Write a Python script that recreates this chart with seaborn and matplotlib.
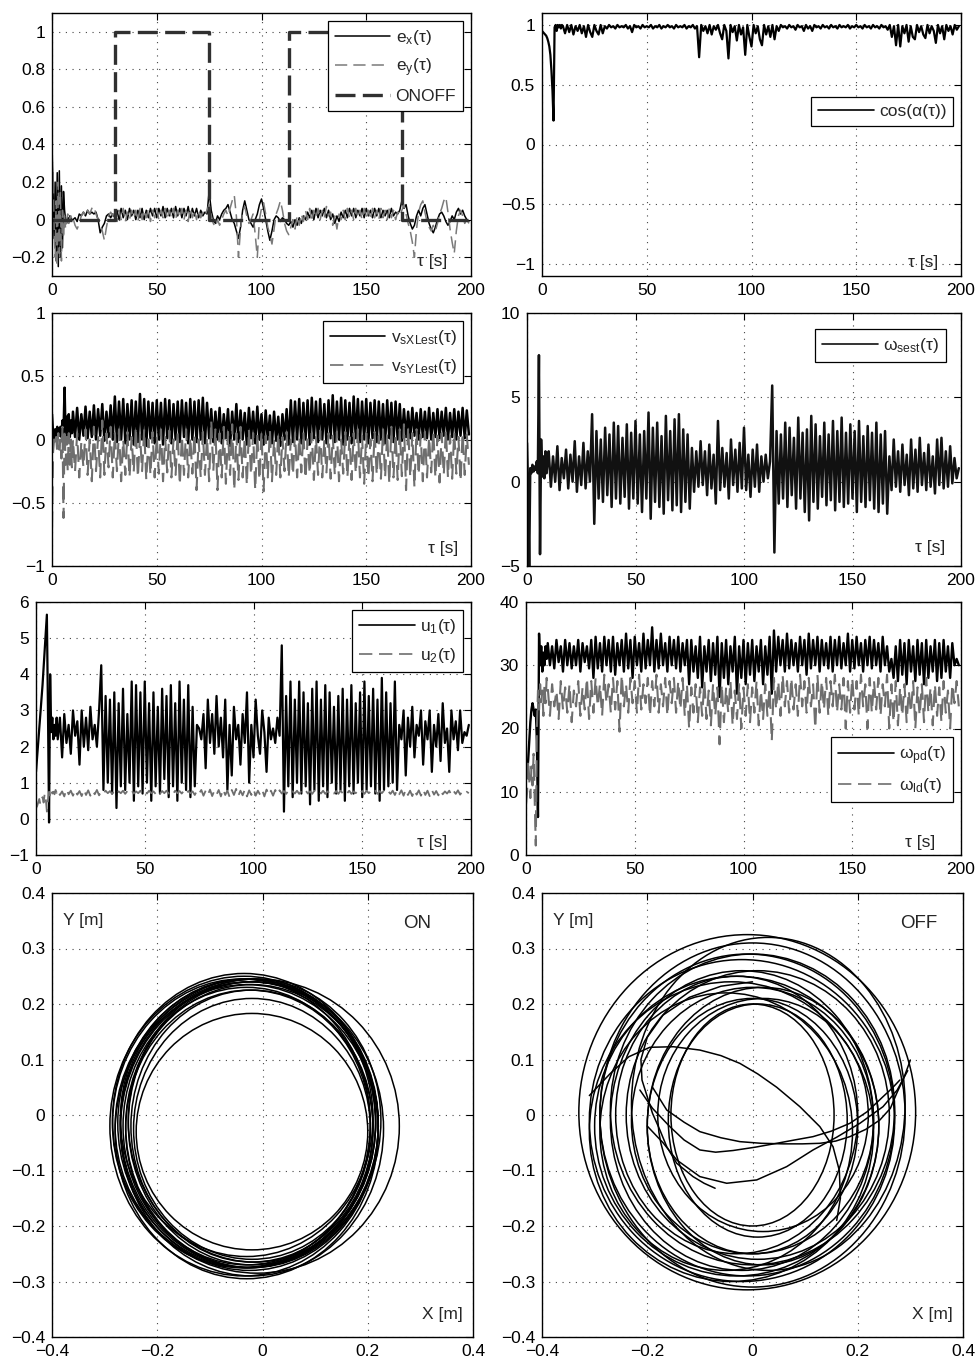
import numpy as np
import matplotlib
matplotlib.use('Agg')
import matplotlib.pyplot as plt
from matplotlib.patches import Ellipse
from matplotlib.ticker import FuncFormatter
import seaborn as sns

# ---- time series: head = 0..9.5 s every 0.5 s, body = 10..199 s every 1 s ----
ex_head = [0.40, 0.15, -0.10, 0.20, -0.22, 0.25, -0.25, 0.26, -0.20, 0.18,
           -0.15, 0.15, 0.05, 0.00, -0.02, 0.01, 0.00, 0.02, 0.01, 0.00]
ex_body = [0.00, 0.01, -0.01, 0.03, 0.02, 0.04, 0.02, 0.05, 0.03, 0.04,
           0.03, 0.04, 0.00, -0.07, -0.04, -0.02, 0.02, 0.03, 0.01, 0.03,
           0.01, 0.05, 0.00, 0.06, 0.01, 0.05, 0.00, 0.06, 0.02, 0.05,
           0.00, 0.05, 0.01, 0.06, 0.00, 0.05, 0.01, 0.06, 0.02, 0.06,
           0.01, 0.06, 0.02, 0.07, 0.01, 0.06, 0.02, 0.06, 0.01, 0.07,
           0.02, 0.06, 0.01, 0.06, 0.02, 0.07, 0.01, 0.06, 0.02, 0.06,
           0.01, 0.05, 0.02, 0.04, 0.03, 0.15, 0.05, 0.00, -0.02, 0.02,
           0.00, 0.03, 0.05, 0.06, 0.08, 0.04, 0.00, -0.02, -0.06, -0.10,
           -0.04, 0.05, 0.10, 0.05, 0.00, -0.02, -0.04, 0.00, 0.03, 0.08,
           0.11, 0.06, 0.00, -0.06, -0.11, -0.06, 0.00, 0.02, 0.01, -0.01,
           0.01, 0.00, -0.02, -0.03, -0.01, -0.04, 0.00, -0.03, 0.01, -0.02,
           0.02, 0.00, 0.04, 0.01, 0.05, 0.00, 0.06, 0.01, 0.05, 0.02,
           0.06, 0.01, 0.05, 0.00, 0.03, -0.02, 0.02, -0.01, 0.04, 0.01,
           0.05, 0.01, 0.06, 0.02, 0.06, 0.01, 0.05, 0.02, 0.06, 0.01,
           0.06, 0.02, 0.05, 0.01, 0.06, 0.02, 0.06, 0.01, 0.05, 0.02,
           0.05, 0.01, 0.06, 0.02, 0.04, 0.03, 0.05, 0.10, 0.06, 0.08,
           0.02, -0.02, -0.05, -0.03, 0.02, 0.05, 0.02, 0.06, 0.08, 0.03,
           -0.02, -0.05, -0.07, -0.04, 0.00, 0.03, 0.04, 0.02, -0.01, -0.03,
           -0.01, 0.02, 0.00, 0.04, 0.06, 0.03, 0.05, 0.02, 0.00, -0.01]

ey_head = [0.10, 0.25, -0.05, -0.20, 0.10, -0.25, 0.20, -0.18, 0.15, -0.22,
           0.05, -0.10, 0.02, -0.05, 0.00, 0.03, -0.02, 0.01, 0.02, 0.00]
ey_body = [0.01, -0.03, -0.05, -0.02, 0.02, 0.04, 0.02, 0.05, 0.03, 0.06,
           0.07, 0.03, 0.00, -0.03, -0.06, -0.11, -0.04, 0.02, 0.04, 0.02,
           0.05, -0.01, 0.05, 0.00, 0.06, -0.01, 0.04, 0.00, 0.05, 0.01,
           0.05, -0.01, 0.06, 0.00, 0.05, 0.01, 0.06, -0.01, 0.05, 0.01,
           0.06, 0.00, 0.05, 0.01, 0.06, 0.00, 0.05, 0.01, 0.06, 0.00,
           0.05, 0.01, 0.06, 0.00, 0.05, -0.01, 0.06, 0.01, 0.05, 0.00,
           0.05, 0.01, 0.04, 0.02, 0.05, 0.08, 0.02, -0.02, -0.04, 0.00,
           -0.03, 0.00, 0.03, 0.05, 0.02, 0.06, 0.10, 0.13, 0.02, -0.20,
           -0.05, 0.04, 0.07, 0.02, -0.02, 0.00, 0.03, -0.08, -0.20, 0.00,
           0.06, 0.09, 0.03, -0.04, -0.08, -0.13, -0.05, 0.03, 0.06, 0.10,
           0.05, -0.02, -0.06, -0.08, -0.04, 0.00, -0.05, 0.02, -0.03, 0.03,
           -0.01, 0.05, 0.00, 0.06, -0.01, 0.05, 0.01, 0.06, 0.00, 0.05,
           0.01, 0.07, 0.02, 0.04, -0.03, 0.02, -0.05, 0.03, 0.00, 0.05,
           0.00, 0.06, 0.01, 0.05, 0.00, 0.06, 0.01, 0.05, 0.00, 0.06,
           0.01, 0.05, 0.00, 0.06, 0.01, 0.05, 0.00, 0.06, 0.01, 0.05,
           0.00, 0.06, 0.01, 0.05, 0.00, 0.04, 0.02, 0.05, 0.08, 0.03,
           -0.02, -0.06, -0.12, -0.20, -0.05, 0.04, 0.08, 0.10, 0.04, -0.01,
           -0.04, -0.06, -0.03, -0.06, -0.02, 0.03, 0.06, 0.10, 0.12, 0.04,
           -0.05, -0.12, -0.18, -0.06, 0.02, 0.05, 0.02, -0.02, 0.00, -0.02]

onoff_t = [0, 30, 30, 75, 75, 113, 113, 167, 167, 200]
onoff_v = [0, 0, 1, 1, 0, 0, 1, 1, 0, 0]

cos_head = [0.95, 0.94, 0.93, 0.92, 0.91, 0.89, 0.86, 0.82, 0.75, 0.62,
            0.45, 0.20, 0.98, 1.00, 0.95, 1.00, 0.98, 1.00, 0.97, 1.00]
cos_body = [0.99, 0.93, 1.00, 0.94, 1.00, 0.92, 0.99, 0.95, 1.00, 0.93,
            0.99, 0.90, 1.00, 0.94, 0.90, 1.00, 0.95, 0.92, 1.00, 0.93,
            0.99, 0.97, 1.00, 0.98, 0.99, 0.97, 1.00, 0.98, 0.99, 0.98,
            1.00, 0.97, 0.99, 0.94, 1.00, 0.98, 0.99, 0.97, 1.00, 0.98,
            0.99, 0.98, 1.00, 0.97, 0.99, 0.98, 1.00, 0.97, 0.99, 0.98,
            1.00, 0.98, 0.99, 0.97, 1.00, 0.98, 0.99, 0.98, 1.00, 0.97,
            0.99, 0.98, 1.00, 0.97, 0.99, 0.73, 1.00, 0.95, 0.99, 0.93,
            1.00, 0.92, 0.99, 0.96, 1.00, 0.93, 0.88, 1.00, 0.95, 0.72,
            1.00, 0.94, 0.99, 0.87, 1.00, 0.92, 0.98, 0.75, 1.00, 0.90,
            0.82, 1.00, 0.93, 0.99, 0.88, 0.83, 1.00, 0.92, 0.99, 0.90,
            1.00, 0.88, 0.99, 0.95, 1.00, 0.98, 0.99, 0.97, 1.00, 0.98,
            0.99, 0.96, 1.00, 0.98, 0.99, 0.95, 1.00, 0.97, 0.99, 0.95,
            1.00, 0.98, 0.99, 0.97, 1.00, 0.98, 0.99, 0.97, 1.00, 0.98,
            0.99, 0.97, 1.00, 0.98, 0.99, 0.98, 1.00, 0.97, 0.99, 0.98,
            1.00, 0.98, 0.99, 0.97, 1.00, 0.98, 0.99, 0.97, 1.00, 0.98,
            0.99, 0.97, 1.00, 0.98, 0.99, 0.96, 1.00, 0.90, 0.99, 0.83,
            1.00, 0.82, 0.99, 0.93, 1.00, 0.86, 0.99, 0.90, 0.88, 1.00,
            0.94, 0.99, 0.92, 0.89, 1.00, 0.93, 0.99, 0.95, 0.85, 1.00,
            0.93, 0.99, 0.88, 1.00, 0.95, 0.99, 0.92, 1.00, 0.96, 0.99]

vx_head = [0.20, 0.05, 0.00, 0.08, 0.02, 0.10, 0.05, 0.03, 0.10, 0.02,
           0.15, 0.05, 0.41, 0.00, 0.18, 0.03, 0.20, 0.02, 0.15, 0.05]
vx_body = [0.22, 0.02, 0.25, 0.00, 0.20, 0.03, 0.26, 0.01, 0.22, 0.02,
           0.27, 0.00, 0.24, 0.03, 0.28, -0.01, 0.22, 0.02, 0.27, 0.00,
           0.34, -0.02, 0.30, 0.00, 0.32, -0.03, 0.28, 0.00, 0.31, -0.04,
           0.30, -0.02, 0.36, 0.00, 0.32, -0.05, 0.30, 0.01, 0.29, -0.03,
           0.31, 0.00, 0.29, -0.04, 0.32, 0.01, 0.31, -0.03, 0.28, 0.00,
           0.30, -0.02, 0.31, 0.02, 0.29, -0.03, 0.32, 0.00, 0.30, -0.02,
           0.31, 0.00, 0.33, -0.03, 0.29, 0.01, 0.24, -0.02, 0.22, 0.00,
           0.25, -0.03, 0.20, 0.01, 0.24, -0.05, 0.22, 0.00, 0.28, -0.02,
           0.23, 0.00, 0.21, -0.04, 0.25, 0.01, 0.22, -0.03, 0.26, 0.00,
           0.20, -0.04, 0.23, 0.00, 0.19, -0.03, 0.22, -0.01, 0.18, -0.05,
           0.20, 0.00, 0.24, -0.04, 0.31, -0.02, 0.30, 0.00, 0.32, -0.03,
           0.29, 0.00, 0.31, -0.04, 0.33, 0.01, 0.30, -0.02, 0.32, 0.00,
           0.28, -0.03, 0.31, 0.01, 0.35, -0.02, 0.30, 0.00, 0.33, -0.04,
           0.31, 0.00, 0.29, -0.03, 0.34, 0.01, 0.32, -0.02, 0.30, 0.00,
           0.32, -0.03, 0.29, 0.01, 0.31, -0.02, 0.30, 0.00, 0.28, -0.03,
           0.31, 0.01, 0.29, -0.02, 0.30, 0.00, 0.28, -0.01, 0.24, 0.02,
           0.22, 0.01, 0.25, 0.03, 0.21, 0.00, 0.24, 0.02, 0.22, 0.01,
           0.25, 0.00, 0.21, 0.02, 0.24, 0.01, 0.22, 0.03, 0.25, 0.00,
           0.21, 0.02, 0.24, 0.00, 0.22, 0.03, 0.25, 0.01, 0.23, 0.04]

vy_head = [-0.70, -0.10, 0.00, -0.05, 0.02, -0.10, 0.05, -0.08, 0.00, -0.15,
           0.10, -0.62, 0.08, -0.20, 0.02, -0.25, 0.05, -0.20, 0.00, -0.22]
vy_body = [0.00, -0.25, 0.05, -0.30, -0.02, -0.22, 0.08, -0.28, 0.00, -0.33,
           0.10, -0.25, 0.02, -0.30, 0.15, -0.28, 0.05, -0.22, 0.10, -0.30,
           0.05, -0.25, 0.08, -0.33, 0.00, -0.28, 0.06, -0.30, 0.02, -0.26,
           0.10, -0.30, 0.04, -0.25, 0.08, -0.32, 0.00, -0.28, 0.06, -0.30,
           0.03, -0.27, 0.08, -0.33, 0.02, -0.26, 0.07, -0.30, 0.00, -0.28,
           0.06, -0.36, 0.03, -0.28, 0.08, -0.30, 0.02, -0.27, 0.05, -0.40,
           0.00, -0.30, 0.06, -0.28, 0.02, -0.33, 0.15, -0.25, 0.08, -0.40,
           0.05, -0.30, 0.10, -0.35, 0.06, -0.28, 0.12, -0.40, 0.05, -0.32,
           0.10, -0.30, 0.02, -0.36, 0.08, -0.28, 0.05, -0.40, 0.04, -0.32,
           0.06, -0.41, 0.03, -0.30, 0.08, -0.33, 0.00, -0.28, 0.05, -0.30,
           0.02, -0.25, 0.06, -0.30, 0.00, -0.28, 0.05, -0.30, 0.02, -0.26,
           0.06, -0.31, 0.00, -0.27, 0.05, -0.32, 0.02, -0.28, 0.07, -0.30,
           0.00, -0.26, 0.05, -0.31, 0.03, -0.28, 0.06, -0.33, 0.00, -0.27,
           0.06, -0.30, 0.02, -0.32, 0.05, -0.27, 0.08, -0.30, 0.03, -0.35,
           0.05, -0.30, 0.00, -0.33, 0.06, -0.28, 0.03, -0.31, 0.08, -0.30,
           0.05, -0.35, 0.10, -0.30, 0.04, -0.32, 0.08, -0.29, 0.12, -0.40,
           0.10, -0.30, 0.05, -0.38, 0.08, -0.28, 0.04, -0.33, 0.06, -0.30,
           0.02, -0.26, 0.07, -0.30, 0.03, -0.34, 0.05, -0.28, 0.08, -0.30,
           0.03, -0.31, 0.06, -0.27, 0.02, -0.33, 0.05, -0.28, 0.04, -0.20]

ws_head = [2.3, -0.5, -5.0, 0.8, 0.5, 1.0, 0.6, 0.9, 0.7, 1.2,
           0.5, 7.5, -4.3, 2.5, 0.3, 1.5, 0.2, 1.8, 0.5, 1.2]
ws_body = [1.8, -0.3, 1.5, 0.0, 2.1, -0.5, 1.4, 0.2, 1.9, -0.4,
           1.6, 0.0, 2.4, -0.6, 1.5, -0.2, 2.3, -0.4, 1.8, 0.0,
           4.0, -2.5, 3.0, -1.0, 2.5, -1.2, 3.2, -0.8, 2.8, -1.5,
           3.5, -1.0, 3.3, -1.3, 2.6, -0.9, 3.4, -1.6, 2.9, -1.0,
           3.6, -1.3, 2.8, -1.8, 3.0, -1.0, 4.1, -2.2, 3.2, -1.2,
           3.5, -1.5, 2.7, -1.9, 3.9, -1.1, 3.0, -1.7, 3.7, -1.4,
           4.0, -1.8, 3.1, -1.2, 2.8, -1.6, 2.0, -0.6, 1.8, -0.3,
           2.4, -0.2, 1.8, -0.8, 2.2, -0.4, 1.6, -1.3, 3.6, -0.5,
           2.0, -0.3, 1.7, -1.0, 2.5, -0.2, 1.9, -0.6, 2.3, -0.4,
           3.2, -0.5, 1.6, -0.9, 1.9, -0.3, 2.2, -0.6, 1.5, 0.0,
           1.6, 0.2, 1.2, 5.7, -4.2, 3.0, -1.3, 2.8, -1.0, 3.5,
           -1.5, 3.2, -0.8, 2.6, -1.6, 3.8, -1.0, 2.9, -1.8, 3.1,
           -2.3, 3.9, -1.2, 3.4, -1.6, 2.7, -0.9, 3.5, -1.4, 2.8,
           -1.1, 3.6, -1.7, 3.0, -1.2, 3.8, -1.5, 2.9, -1.3, 3.4,
           -1.0, 3.0, -1.8, 3.6, -1.2, 2.7, -1.5, 3.3, -1.1, 2.9,
           -1.6, 3.5, -1.8, 2.8, -1.3, 3.0, -1.9, 1.5, -0.5, 2.5,
           -0.3, 1.8, -0.6, 2.2, -0.2, 1.6, -0.8, 2.5, -0.4, 1.9,
           -0.6, 2.6, -0.2, 1.7, -0.5, 2.2, -0.3, 1.5, -0.7, 2.5,
           -0.2, 2.6, -0.4, 1.8, -0.3, 2.1, -0.1, 1.4, 0.2, 0.8]

u1_head = [1.3, 1.7, 2.1, 2.5, 2.9, 3.3, 3.7, 4.2, 4.7, 5.2,
           5.65, 3.0, -0.1, 4.0, 2.4, 2.8, 2.2, 2.6, 2.3, 2.8]
u1_body = [2.2, 2.8, 1.7, 2.9, 2.1, 2.6, 1.8, 3.0, 2.3, 2.7,
           1.5, 3.0, 2.0, 2.8, 1.9, 3.1, 2.2, 2.6, 2.0, 3.0,
           4.25, 0.8, 3.4, 1.0, 3.3, 0.7, 3.5, 0.3, 3.2, 0.9,
           3.6, 0.8, 2.9, 1.0, 3.8, 0.5, 3.7, 0.9, 3.5, 0.7,
           3.8, 1.0, 3.2, 0.5, 3.5, 0.9, 3.1, 0.7, 3.6, 1.1,
           3.4, 0.6, 3.7, 0.9, 3.2, 0.5, 3.8, 1.0, 3.3, 0.8,
           3.7, 0.6, 3.1, 0.9, 2.6, 2.5, 2.2, 2.9, 1.4, 3.3,
           2.1, 2.9, 1.8, 3.4, 2.0, 2.8, 1.7, 3.3, 0.8, 2.6,
           1.2, 3.1, 2.2, 2.6, 1.5, 2.9, 2.1, 3.5, 1.0, 2.6,
           1.7, 3.3, 2.3, 1.8, 3.0, 2.4, 1.3, 2.8, 2.2, 2.5,
           2.1, 2.8, 2.3, 4.8, 0.2, 3.4, 0.9, 3.8, 0.6, 3.3,
           1.0, 3.8, 0.7, 3.5, 0.9, 3.2, 0.4, 3.6, 0.8, 3.8,
           0.5, 3.3, 0.9, 3.7, 0.6, 3.5, 1.0, 3.1, 0.7, 3.4,
           0.8, 3.6, 0.5, 3.3, 0.9, 3.7, 0.7, 3.2, 1.0, 3.5,
           0.6, 3.8, 0.8, 3.4, 0.9, 3.6, 0.7, 3.3, 0.5, 3.9,
           0.8, 3.5, 0.9, 3.2, 1.0, 3.8, 0.8, 2.6, 2.2, 3.0,
           1.2, 2.8, 2.0, 3.1, 1.7, 2.6, 2.3, 3.0, 1.5, 2.7,
           2.2, 3.0, 1.3, 2.6, 2.0, 2.9, 1.6, 3.2, 2.1, 2.5,
           1.3, 3.0, 2.2, 2.7, 1.9, 3.0, 2.1, 2.4, 2.3, 2.6]

u2_head = [0.30, 0.35, 0.45, 0.55, 0.40, 0.50, 0.60, 0.45, 0.70, 0.55,
           0.20, 0.50, 0.75, 0.65, 0.80, 0.70, 0.75, 0.68, 0.80, 0.72]
u2_body = [0.80, 0.66, 0.76, 0.62, 0.82, 0.68, 0.78, 0.64, 0.80, 0.67,
           0.77, 0.63, 0.81, 0.66, 0.79, 0.64, 0.78, 0.68, 0.80, 0.65,
           0.76, 0.70, 0.78, 0.71, 0.77, 0.69, 0.78, 0.70, 0.76, 0.71,
           0.78, 0.69, 0.77, 0.71, 0.78, 0.70, 0.76, 0.71, 0.78, 0.69,
           0.77, 0.70, 0.78, 0.71, 0.76, 0.69, 0.78, 0.70, 0.77, 0.71,
           0.78, 0.70, 0.76, 0.69, 0.78, 0.71, 0.77, 0.70, 0.78, 0.69,
           0.77, 0.71, 0.76, 0.66, 0.78, 0.70, 0.80, 0.64, 0.78, 0.66,
           0.81, 0.63, 0.78, 0.67, 0.80, 0.62, 0.82, 0.66, 0.78, 0.60,
           0.80, 0.66, 0.83, 0.63, 0.78, 0.65, 0.81, 0.62, 0.79, 0.66,
           0.82, 0.64, 0.78, 0.67, 0.80, 0.62, 0.81, 0.66, 0.78, 0.64,
           0.80, 0.67, 0.79, 0.70, 0.77, 0.69, 0.78, 0.71, 0.76, 0.70,
           0.78, 0.69, 0.77, 0.71, 0.78, 0.70, 0.76, 0.69, 0.78, 0.71,
           0.77, 0.70, 0.78, 0.69, 0.76, 0.71, 0.78, 0.70, 0.77, 0.69,
           0.78, 0.71, 0.77, 0.70, 0.78, 0.69, 0.76, 0.71, 0.78, 0.70,
           0.77, 0.69, 0.78, 0.71, 0.76, 0.70, 0.78, 0.69, 0.77, 0.71,
           0.78, 0.70, 0.76, 0.69, 0.78, 0.66, 0.80, 0.68, 0.79, 0.64,
           0.81, 0.66, 0.78, 0.63, 0.80, 0.67, 0.79, 0.64, 0.81, 0.66,
           0.78, 0.63, 0.80, 0.67, 0.77, 0.65, 0.79, 0.68, 0.76, 0.70,
           0.78, 0.66, 0.77, 0.69, 0.79, 0.67, 0.76, 0.70, 0.75, 0.71]

wpd_head = [12, 13, 15, 18, 21, 23, 24, 23, 22, 23,
            18, 6, 35, 30, 33, 29, 32, 30, 33, 31]
wpd_body = [33.5, 30.0, 33.0, 29.5, 34.0, 30.5, 33.0, 29.0, 34.0, 30.0,
            33.5, 29.5, 33.0, 30.0, 34.0, 29.0, 33.5, 30.5, 33.0, 29.5,
            34.0, 28.0, 34.5, 29.5, 33.5, 29.0, 34.5, 30.0, 34.0, 29.0,
            34.5, 28.5, 33.5, 30.0, 34.0, 29.0, 35.0, 29.5, 34.0, 28.0,
            34.5, 30.0, 33.5, 29.0, 35.0, 29.5, 34.0, 30.0, 36.0, 29.0,
            34.0, 29.5, 35.0, 30.0, 33.5, 29.0, 34.5, 30.0, 34.0, 29.5,
            34.5, 29.0, 33.5, 30.0, 34.0, 27.0, 34.0, 29.0, 33.0, 28.0,
            34.5, 26.5, 33.0, 29.0, 34.0, 27.5, 33.5, 28.5, 34.5, 25.0,
            33.5, 28.0, 34.0, 27.0, 33.0, 29.0, 34.5, 25.5, 33.0, 28.0,
            34.0, 27.0, 33.5, 28.5, 34.0, 27.5, 33.0, 29.0, 34.0, 27.0,
            33.0, 28.5, 34.5, 25.5, 35.5, 29.0, 34.5, 30.0, 34.0, 29.0,
            35.0, 29.5, 34.0, 30.0, 33.5, 29.0, 34.5, 30.0, 34.0, 28.5,
            35.0, 29.5, 34.0, 30.0, 34.5, 29.0, 34.0, 30.0, 33.5, 29.5,
            34.5, 29.0, 34.0, 30.0, 34.5, 29.5, 33.5, 30.0, 35.0, 29.0,
            34.0, 29.5, 34.5, 30.0, 33.5, 29.0, 34.0, 30.0, 34.5, 29.5,
            34.0, 30.0, 33.5, 29.0, 34.5, 30.0, 33.0, 29.0, 31.0, 28.0,
            33.0, 27.5, 34.0, 28.5, 33.5, 27.0, 34.0, 29.0, 33.0, 27.5,
            34.0, 28.5, 33.5, 27.0, 34.0, 28.0, 33.0, 29.0, 34.0, 27.5,
            33.5, 28.0, 34.0, 29.0, 33.0, 28.0, 33.5, 30.0, 31.0, 30.0]

wld_head = [8, 10, 15, 12, 9, 14, 11, 16, 9, 1.5,
            20, 26, 23, 27, 24, 26, 22, 27, 24, 28]
wld_body = [26.5, 22.0, 27.0, 23.5, 26.0, 21.5, 27.5, 23.0, 26.5, 22.5,
            27.0, 21.0, 26.0, 23.5, 27.5, 22.0, 26.5, 23.0, 28.0, 21.5,
            27.5, 22.5, 28.0, 23.5, 27.0, 22.0, 28.5, 24.0, 27.0, 22.5,
            28.0, 23.0, 27.5, 19.5, 28.5, 23.5, 27.0, 22.5, 28.0, 24.0,
            27.5, 22.5, 28.5, 23.0, 27.0, 24.0, 28.0, 22.0, 27.5, 23.5,
            28.5, 22.5, 27.0, 23.5, 28.0, 22.0, 27.5, 24.0, 28.0, 22.5,
            27.5, 23.0, 28.0, 22.0, 27.0, 20.0, 26.5, 22.5, 27.0, 21.0,
            26.5, 22.0, 27.5, 21.5, 26.0, 20.5, 27.0, 22.0, 26.5, 17.5,
            27.0, 21.0, 26.5, 22.5, 27.5, 20.5, 26.0, 21.5, 27.0, 20.0,
            26.5, 22.0, 27.0, 21.0, 26.5, 22.5, 27.5, 20.5, 26.0, 21.5,
            27.0, 22.0, 26.5, 18.0, 28.0, 23.0, 27.5, 22.0, 28.5, 23.5,
            27.5, 22.5, 28.0, 23.0, 27.0, 22.0, 28.5, 23.5, 27.5, 22.5,
            28.0, 23.5, 27.0, 20.0, 28.5, 22.5, 27.5, 23.0, 28.0, 22.0,
            27.5, 23.5, 28.5, 22.5, 27.0, 23.0, 28.0, 20.0, 27.5, 22.5,
            28.0, 23.0, 27.5, 22.0, 28.5, 23.5, 27.0, 20.0, 28.0, 22.5,
            27.5, 23.0, 28.0, 22.0, 27.0, 23.5, 28.5, 20.0, 27.0, 21.0,
            27.5, 20.5, 26.5, 22.0, 27.0, 21.0, 26.0, 22.5, 27.5, 20.0,
            26.5, 22.0, 27.0, 21.0, 28.0, 22.5, 26.5, 20.5, 27.0, 22.0,
            26.5, 21.0, 27.5, 22.5, 26.0, 20.0, 27.0, 24.0, 27.5, 23.5]

# ---- X-Y trajectories: each loop read as centre and half-widths [m] ----
on_cx = [-0.03, -0.02, -0.035, -0.025, -0.04, -0.02, -0.03, -0.015, -0.035,
         -0.025, -0.03, -0.02, -0.03, -0.01, -0.02, -0.025, -0.02, -0.02]
on_cy = [-0.015, -0.02, -0.01, -0.025, -0.015, -0.02, -0.03, -0.01, -0.02,
         -0.015, -0.02, -0.025, -0.005, -0.02, -0.015, -0.02, -0.03, -0.025]
on_rx = [0.245, 0.24, 0.25, 0.235, 0.245, 0.23, 0.25, 0.24, 0.255,
         0.245, 0.235, 0.25, 0.24, 0.27, 0.235, 0.245, 0.22, 0.225]
on_ry = [0.26, 0.255, 0.265, 0.25, 0.26, 0.245, 0.265, 0.255, 0.27,
         0.26, 0.25, 0.265, 0.25, 0.265, 0.255, 0.26, 0.213, 0.235]

off_cx = [-0.01, 0.0, -0.02, -0.01, -0.03, 0.0, 0.01, -0.02, 0.0,
          0.02, 0.01, 0.0, -0.04, 0.03, -0.05, 0.02, -0.03, 0.0]
off_cy = [0.005, 0.0, -0.01, 0.0, -0.02, 0.01, 0.0, -0.01, -0.01,
          0.0, -0.01, -0.02, -0.03, 0.02, -0.03, -0.02, 0.0, 0.0]
off_rx = [0.32, 0.29, 0.29, 0.28, 0.27, 0.27, 0.25, 0.25, 0.23,
          0.2, 0.17, 0.2, 0.27, 0.26, 0.24, 0.22, 0.23, 0.155]
off_ry = [0.32, 0.31, 0.29, 0.29, 0.27, 0.28, 0.26, 0.27, 0.24,
          0.21, 0.21, 0.23, 0.27, 0.30, 0.25, 0.25, 0.25, 0.2]

# open stretches of the OFF trajectory (start and crossing arcs)
off_a_x = [-0.31, -0.27, -0.235, -0.195, -0.15, -0.1, -0.06, -0.024, 0.01, 0.046,
           0.09, 0.128, 0.153, 0.165, 0.167, 0.16]
off_a_y = [0.035, 0.075, 0.105, 0.122, 0.123, 0.117, 0.107, 0.093, 0.074, 0.05,
           0.015, -0.021, -0.057, -0.1, -0.15, -0.19]
off_b_x = [-0.19, -0.163, -0.13, -0.1, -0.06, -0.024, 0.017, 0.058, 0.095, 0.128,
           0.158, 0.185, 0.215, 0.242, 0.262, 0.274, 0.288, 0.3]
off_b_y = [0.05, 0.009, -0.013, -0.03, -0.041, -0.048, -0.051, -0.052, -0.052, -0.051,
           -0.047, -0.039, -0.026, -0.009, 0.012, 0.039, 0.068, 0.099]
off_e_x = [-0.214, -0.19, -0.157, -0.13, -0.1, -0.07, -0.037, 0.005, 0.046, 0.08,
           0.115, 0.15, 0.185, 0.218, 0.248, 0.265, 0.28]
off_e_y = [0.045, 0.012, -0.021, -0.045, -0.063, -0.067, -0.064, -0.058, -0.051, -0.045,
           -0.039, -0.029, -0.015, 0.006, 0.033, 0.048, 0.063]
off_c_x = [-0.071, -0.092, -0.113, -0.144, -0.163, -0.176, -0.19, -0.2, -0.21, -0.212,
           -0.2, -0.17, -0.12, -0.06, 0.0]
off_c_y = [-0.132, -0.123, -0.111, -0.087, -0.057, -0.027, 0.003, 0.033, 0.063, 0.1,
           0.14, 0.18, 0.212, 0.232, 0.24]
off_d_x = [-0.2, -0.17, -0.144, -0.1, -0.049, 0.008, 0.065, 0.115, 0.16, 0.204,
           0.248, 0.275, 0.295]
off_d_y = [-0.02, -0.05, -0.081, -0.111, -0.123, -0.117, -0.093, -0.063, -0.04, -0.015,
           0.015, 0.045, 0.08]


def series_time(head, body):
    return np.concatenate([np.arange(len(head)) * 0.5, 10 + np.arange(len(body))])


def series(head, body):
    return np.array(head + body, dtype=float)


sns.set_style('white')
plt.rcParams['font.family'] = ['Liberation Sans', 'DejaVu Sans']
plt.rcParams['mathtext.fontset'] = 'custom'
plt.rcParams['mathtext.rm'] = 'Liberation Sans'
plt.rcParams['mathtext.it'] = 'Liberation Sans:italic'
plt.rcParams['axes.unicode_minus'] = True

BLACK = '#000000'
GRAY = '#6e6e6e'
FS = 12.5

fmt = FuncFormatter(lambda v, p: ('%g' % round(v, 6)).replace('-', '\u2212'))

W, H = 980, 1361
fig = plt.figure(figsize=(W / 100, H / 100), dpi=100)


def add_ax(x0, y0, x1, y1):
    return fig.add_axes([x0 / W, 1 - y1 / H, (x1 - x0) / W, (y1 - y0) / H])


def style(ax, xlim, ylim, xticks, yticks):
    ax.set_xlim(xlim)
    ax.set_ylim(ylim)
    ax.set_xticks(xticks)
    ax.set_yticks(yticks)
    ax.xaxis.set_major_formatter(fmt)
    ax.yaxis.set_major_formatter(fmt)
    ax.set_axisbelow(True)
    ax.grid(True, linestyle=(0, (1, 5)), color='#444444', linewidth=0.8)
    ax.tick_params(direction='in', length=5, width=0.8, top=True, right=True,
                   labelsize=FS, pad=5, colors='black')
    for s in ax.spines.values():
        s.set_visible(True)
        s.set_linewidth(1.0)
        s.set_color('black')
    ax.set_xlabel('')
    ax.set_ylabel('')


def legend(ax, anchor):
    leg = ax.legend(loc='upper right', bbox_to_anchor=anchor, fontsize=FS,
                    handlelength=3.2, handletextpad=0.3, borderpad=0.4,
                    labelspacing=0.55, fancybox=False, framealpha=1,
                    edgecolor='black', borderaxespad=0)
    leg.get_frame().set_linewidth(0.9)
    for h in leg.get_lines():
        h.set_linewidth(min(h.get_linewidth(), 1.2) if h.get_label() != 'ONOFF' else 2.4)


def tau_label(ax, x, y):
    ax.text(x, y, 'τ [s]', transform=ax.transAxes, ha='right', va='bottom', fontsize=FS)


tx = [0, 50, 100, 150, 200]
DASH = (0, (8, 4))

# ---- panel 1: errors and ON/OFF ----
ax1 = add_ax(52, 13, 471, 276)
sns.lineplot(x=series_time(ex_head, ex_body), y=series(ex_head, ex_body), ax=ax1,
             color=BLACK, lw=1.1, label=r'e$_\mathrm{x}$(τ)')
sns.lineplot(x=series_time(ey_head, ey_body), y=series(ey_head, ey_body), ax=ax1,
             color='#7a7a7a', lw=1.1, linestyle=DASH, label=r'e$_\mathrm{y}$(τ)')
sns.lineplot(x=onoff_t, y=onoff_v, ax=ax1, sort=False, estimator=None,
             color='#303030', lw=2.4, linestyle=(0, (6, 2.2)), label='ONOFF')
style(ax1, (0, 200), (-0.3, 1.1), tx, [-0.2, 0, 0.2, 0.4, 0.6, 0.8, 1])
legend(ax1, (0.981, 0.97))
tau_label(ax1, 0.943, 0.025)

# ---- panel 2: cos(alpha) ----
ax2 = add_ax(542, 13, 961, 276)
sns.lineplot(x=series_time(cos_head, cos_body), y=series(cos_head, cos_body), ax=ax2,
             color=BLACK, lw=1.6, label='cos(α(τ))')
style(ax2, (0, 200), (-1.1, 1.1), tx, [-1, -0.5, 0, 0.5, 1])
legend(ax2, (0.982, 0.68))
tau_label(ax2, 0.945, 0.023)

# ---- panel 3: velocity estimates ----
ax3 = add_ax(52, 313, 471, 566)
sns.lineplot(x=series_time(vx_head, vx_body), y=series(vx_head, vx_body), ax=ax3,
             color=BLACK, lw=1.8, label=r'v$_\mathrm{sXLest}$(τ)')
sns.lineplot(x=series_time(vy_head, vy_body), y=series(vy_head, vy_body), ax=ax3,
             color=GRAY, lw=1.5, linestyle=DASH, label=r'v$_\mathrm{sYLest}$(τ)')
style(ax3, (0, 200), (-1, 1), tx, [-1, -0.5, 0, 0.5, 1])
legend(ax3, (0.982, 0.968))
tau_label(ax3, 0.969, 0.04)

# ---- panel 4: angular velocity estimate ----
ax4 = add_ax(527, 313, 961, 566)
sns.lineplot(x=series_time(ws_head, ws_body), y=series(ws_head, ws_body), ax=ax4,
             color='#111111', lw=1.8, label=r'ω$_\mathrm{sest}$(τ)')
style(ax4, (0, 200), (-5, 10), tx, [-5, 0, 5, 10])
legend(ax4, (0.965, 0.937))
tau_label(ax4, 0.963, 0.045)

# ---- panel 5: controls ----
ax5 = add_ax(36, 602, 471, 855)
sns.lineplot(x=series_time(u1_head, u1_body), y=series(u1_head, u1_body), ax=ax5,
             color=BLACK, lw=1.6, label=r'u$_\mathrm{1}$(τ)')
sns.lineplot(x=series_time(u2_head, u2_body), y=series(u2_head, u2_body), ax=ax5,
             color=GRAY, lw=1.3, linestyle=DASH, label=r'u$_\mathrm{2}$(τ)')
style(ax5, (0, 200), (-1, 6), tx, [-1, 0, 1, 2, 3, 4, 5, 6])
legend(ax5, (0.982, 0.968))
tau_label(ax5, 0.945, 0.02)

# ---- panel 6: wheel speeds ----
ax6 = add_ax(526, 602, 961, 855)
sns.lineplot(x=series_time(wpd_head, wpd_body), y=series(wpd_head, wpd_body), ax=ax6,
             color=BLACK, lw=1.7, label=r'ω$_\mathrm{pd}$(τ)')
sns.lineplot(x=series_time(wld_head, wld_body), y=series(wld_head, wld_body), ax=ax6,
             color=GRAY, lw=1.5, linestyle=DASH, label=r'ω$_\mathrm{ld}$(τ)')
style(ax6, (0, 200), (0, 40), tx, [0, 10, 20, 30, 40])
legend(ax6, (0.982, 0.466))
tau_label(ax6, 0.94, 0.02)

# ---- panels 7, 8: trajectories ----
xy_ticks_x = [-0.4, -0.2, 0, 0.2, 0.4]
xy_ticks_y = [-0.4, -0.3, -0.2, -0.1, 0, 0.1, 0.2, 0.3, 0.4]


def draw_loops(ax, cx, cy, rx, ry):
    for a, b, c, d in zip(cx, cy, rx, ry):
        ax.add_patch(Ellipse((a, b), 2 * c, 2 * d, fill=False, edgecolor=BLACK, lw=1.1))


def xy_labels(ax, tag):
    ax.text(0.026, 0.955, 'Y [m]', transform=ax.transAxes, ha='left', va='top', fontsize=FS)
    ax.text(0.976, 0.034, 'X [m]', transform=ax.transAxes, ha='right', va='bottom', fontsize=FS)
    ax.text(0.90 if tag == 'ON' else 0.94, 0.95, tag, transform=ax.transAxes,
            ha='right', va='top', fontsize=FS + 1)


ax7 = add_ax(52, 893, 473, 1337)
draw_loops(ax7, on_cx, on_cy, on_rx, on_ry)
style(ax7, (-0.4, 0.4), (-0.4, 0.4), xy_ticks_x, xy_ticks_y)
xy_labels(ax7, 'ON')

ax8 = add_ax(542, 893, 963, 1337)
draw_loops(ax8, off_cx, off_cy, off_rx, off_ry)
for xs, ys in [(off_a_x, off_a_y), (off_b_x, off_b_y), (off_e_x, off_e_y),
               (off_c_x, off_c_y), (off_d_x, off_d_y)]:
    sns.lineplot(x=xs, y=ys, ax=ax8, sort=False, estimator=None, color=BLACK, lw=1.1)
style(ax8, (-0.4, 0.4), (-0.4, 0.4), xy_ticks_x, xy_ticks_y)
xy_labels(ax8, 'OFF')

fig.savefig('out.png', dpi=100)
